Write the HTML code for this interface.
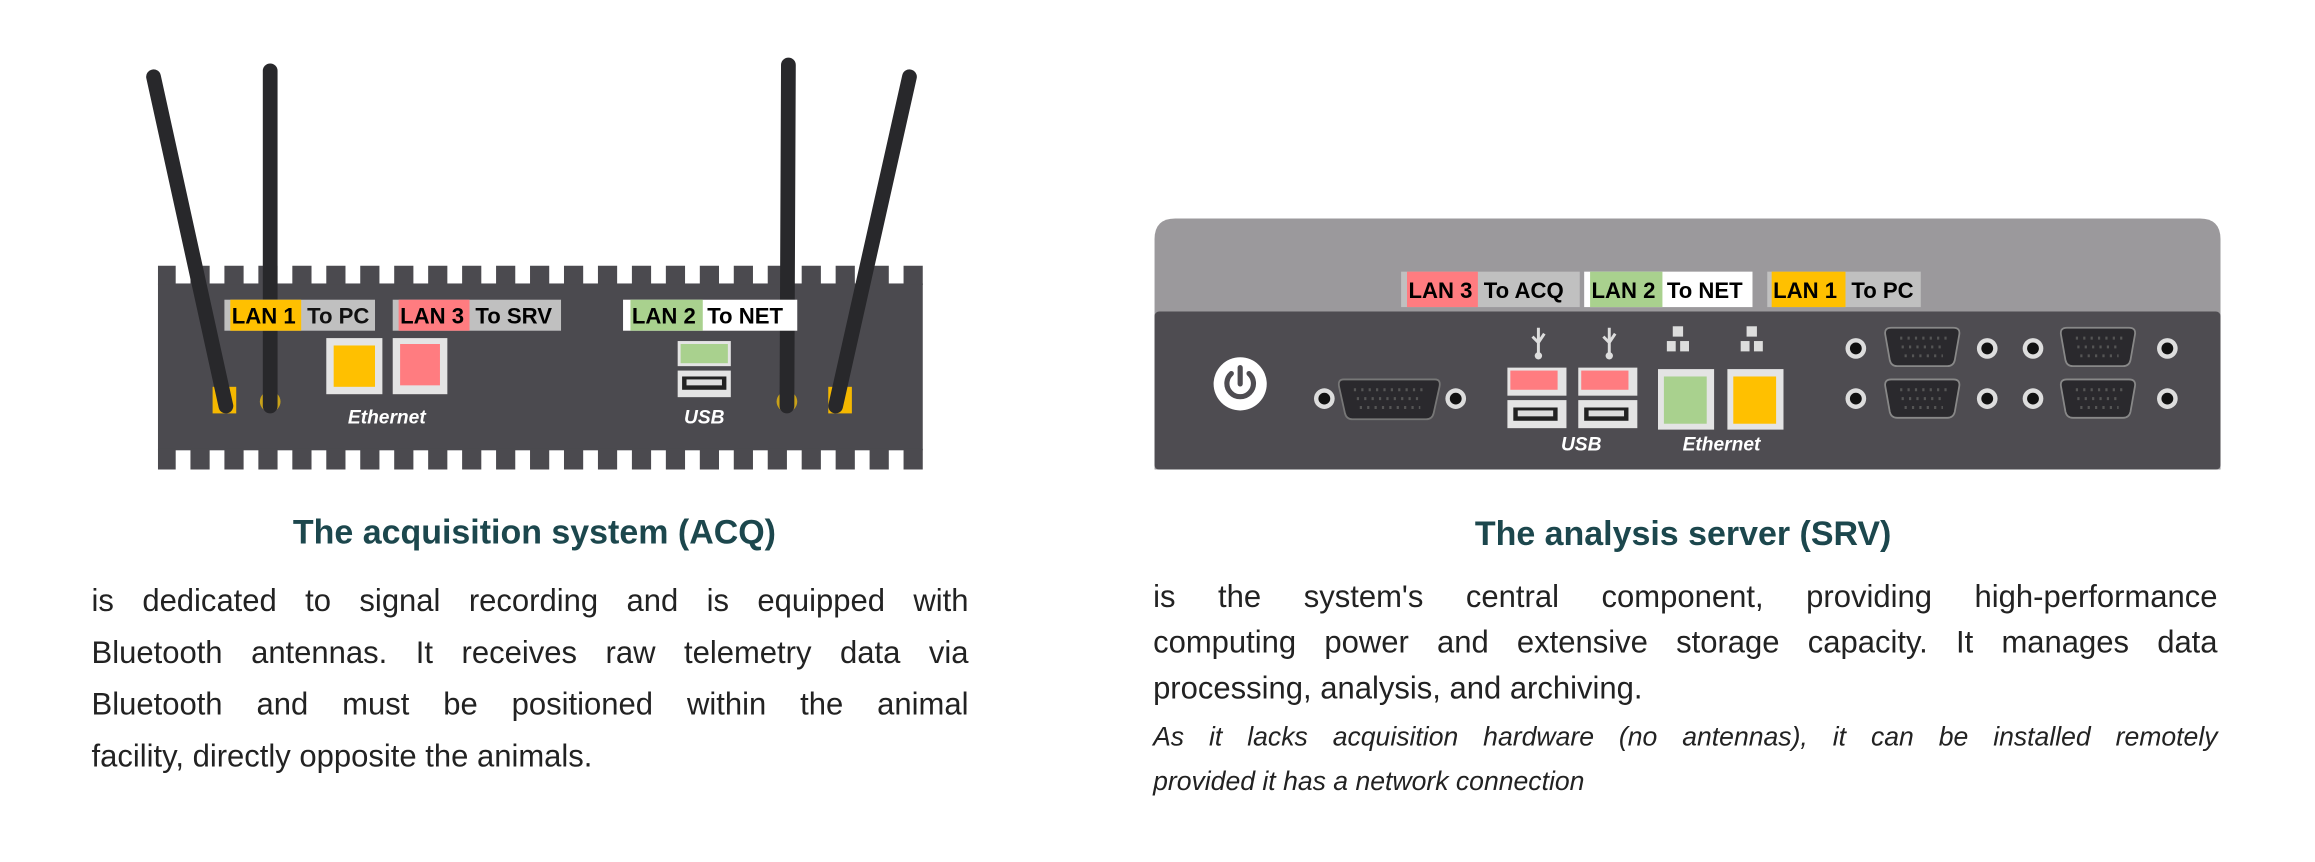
<!DOCTYPE html>
<html><head><meta charset="utf-8"><style>
html,body{margin:0;padding:0;background:#fff;width:2315px;height:862px;overflow:hidden}
#w{position:absolute;left:0;top:0;width:1568px;height:584px;transform:scale(1.4764);transform-origin:0 0;font-family:"Liberation Sans",sans-serif}
.t{position:absolute;color:#1c474d;font-weight:bold;font-size:23px;text-align:center;white-space:nowrap}
.p{position:absolute;color:#222;font-size:21px;line-height:35px}
.p div,.i div{text-align:justify;text-align-last:justify;white-space:nowrap}
.p div.l,.i div.l{text-align-last:left}
.i{position:absolute;color:#222;font-size:18px;line-height:30px;font-style:italic}
svg{position:absolute;left:0;top:0}
</style></head><body><div id="w">
<svg width="1568" height="584" viewBox="0 0 1568 584" font-family="Liberation Sans, sans-serif">
<rect x="107" y="192" width="518" height="113" fill="#4b4a4f"/>
<g fill="#4b4a4f">
<rect x="107" y="180" width="12" height="13"/><rect x="129" y="180" width="13" height="13"/><rect x="152" y="180" width="13" height="13"/><rect x="175" y="180" width="13" height="13"/><rect x="198" y="180" width="13" height="13"/><rect x="221" y="180" width="13" height="13"/><rect x="244" y="180" width="13" height="13"/><rect x="267" y="180" width="13" height="13"/><rect x="290" y="180" width="13" height="13"/><rect x="313" y="180" width="13" height="13"/><rect x="336" y="180" width="13" height="13"/><rect x="359" y="180" width="13" height="13"/><rect x="382" y="180" width="13" height="13"/><rect x="405" y="180" width="13" height="13"/><rect x="428" y="180" width="13" height="13"/><rect x="451" y="180" width="13" height="13"/><rect x="474" y="180" width="13" height="13"/><rect x="497" y="180" width="13" height="13"/><rect x="520" y="180" width="13" height="13"/><rect x="543" y="180" width="13" height="13"/><rect x="566" y="180" width="13" height="13"/><rect x="589" y="180" width="13" height="13"/><rect x="612" y="180" width="13" height="13"/>
<rect x="107" y="304" width="12" height="14"/><rect x="129" y="304" width="13" height="14"/><rect x="152" y="304" width="13" height="14"/><rect x="175" y="304" width="13" height="14"/><rect x="198" y="304" width="13" height="14"/><rect x="221" y="304" width="13" height="14"/><rect x="244" y="304" width="13" height="14"/><rect x="267" y="304" width="13" height="14"/><rect x="290" y="304" width="13" height="14"/><rect x="313" y="304" width="13" height="14"/><rect x="336" y="304" width="13" height="14"/><rect x="359" y="304" width="13" height="14"/><rect x="382" y="304" width="13" height="14"/><rect x="405" y="304" width="13" height="14"/><rect x="428" y="304" width="13" height="14"/><rect x="451" y="304" width="13" height="14"/><rect x="474" y="304" width="13" height="14"/><rect x="497" y="304" width="13" height="14"/><rect x="520" y="304" width="13" height="14"/><rect x="543" y="304" width="13" height="14"/><rect x="566" y="304" width="13" height="14"/><rect x="589" y="304" width="13" height="14"/><rect x="612" y="304" width="13" height="14"/>
</g>
<rect x="144" y="262" width="16" height="18" fill="#f5b800"/>
<rect x="561" y="262" width="16" height="18" fill="#f5b800"/>
<circle cx="183" cy="272" r="7" fill="#c9a21a"/>
<circle cx="533" cy="272" r="7" fill="#c9a21a"/>
<g stroke="#28282b" stroke-linecap="round">
<line x1="104" y1="52" x2="153" y2="275" stroke-width="10"/>
<line x1="183" y1="48" x2="183" y2="275" stroke-width="10"/>
<line x1="534" y1="44" x2="533" y2="275" stroke-width="10"/>
<line x1="616" y1="52" x2="566" y2="275" stroke-width="10"/>
</g>
<g font-size="15" font-weight="bold">
<rect x="152" y="203" width="102" height="21" fill="#c0c0c0"/><rect x="156" y="203" width="48" height="21" fill="#ffc000"/>
<text x="157" y="219">LAN 1</text><text x="208" y="219" fill="#111">To PC</text>
<rect x="266" y="203" width="114" height="21" fill="#c0c0c0"/><rect x="270" y="203" width="48" height="21" fill="#ff7c80"/>
<text x="271" y="219">LAN 3</text><text x="322" y="219">To SRV</text>
<rect x="422" y="203" width="118" height="21" fill="#fff"/><rect x="427" y="203" width="49" height="21" fill="#a9d18e"/>
<text x="428" y="219">LAN 2</text><text x="479" y="219">To NET</text>
</g>
<rect x="221" y="229" width="38" height="38" fill="#e4e4e4"/><rect x="226" y="234" width="28" height="28" fill="#ffc000"/>
<rect x="266" y="229" width="37" height="38" fill="#e4e4e4"/><rect x="271" y="233" width="27" height="28" fill="#ff7c80"/>
<rect x="459" y="231" width="36" height="17" fill="#e4e4e4"/><rect x="461" y="233" width="32" height="13" fill="#a9d18e"/>
<rect x="459" y="251" width="36" height="18" fill="#e4e4e4"/><rect x="462" y="255" width="30" height="9" fill="#222"/><rect x="465" y="257" width="24" height="4" fill="#ddd"/>
<text x="262" y="287" fill="#fff" font-size="13" font-style="italic" font-weight="bold" text-anchor="middle">Ethernet</text>
<text x="477" y="287" fill="#fff" font-size="13" font-style="italic" font-weight="bold" text-anchor="middle">USB</text>

<path d="M782 318 V162 Q782 148 796 148 H1490 Q1504 148 1504 162 V318 Z" fill="#9b999c"/>
<rect x="782" y="211" width="722" height="107" rx="3" fill="#4e4c51"/>
<g font-size="15" font-weight="bold">
<rect x="949" y="184" width="121" height="24" fill="#c0c0c0"/><rect x="953" y="184" width="48" height="24" fill="#ff7c80"/>
<text x="954" y="202">LAN 3</text><text x="1005" y="202">To ACQ</text>
<rect x="1073" y="184" width="114" height="24" fill="#fff"/><rect x="1077" y="184" width="49" height="24" fill="#a9d18e"/>
<text x="1078" y="202">LAN 2</text><text x="1129" y="202">To NET</text>
<rect x="1197" y="184" width="104" height="24" fill="#c0c0c0"/><rect x="1200" y="184" width="50" height="24" fill="#ffc000"/>
<text x="1201" y="202">LAN 1</text><text x="1254" y="202">To PC</text>
</g>
<circle cx="840" cy="260" r="18" fill="#fff"/>
<path d="M834 253 A9 9 0 1 0 846 253" fill="none" stroke="#4e4c51" stroke-width="3.5" stroke-linecap="round"/>
<line x1="840" y1="249" x2="840" y2="260" stroke="#4e4c51" stroke-width="3.5" stroke-linecap="round"/>
<circle cx="897" cy="270" r="7" fill="#ddd"/><circle cx="897" cy="270" r="4" fill="#111"/>
<circle cx="986" cy="270" r="7" fill="#ddd"/><circle cx="986" cy="270" r="4" fill="#111"/>
<path d="M910 257 H972 Q976 257 975 262 L971 280 Q970 284 966 284 H916 Q912 284 911 280 L907 262 Q906 257 910 257Z" fill="#2a292d" stroke="#777" stroke-width="1.2"/>
<g fill="#2a292d" stroke="#888" stroke-width="1.2">
<path d="M1281 222 H1323 Q1328 222 1327 227 L1324 244 Q1323 248 1319 248 H1285 Q1281 248 1280 244 L1277 227 Q1276 222 1281 222Z"/>
<path d="M1281 257 H1323 Q1328 257 1327 262 L1324 279 Q1323 283 1319 283 H1285 Q1281 283 1280 279 L1277 262 Q1276 257 1281 257Z"/>
<path d="M1400 222 H1442 Q1447 222 1446 227 L1443 244 Q1442 248 1438 248 H1404 Q1400 248 1399 244 L1396 227 Q1395 222 1400 222Z"/>
<path d="M1400 257 H1442 Q1447 257 1446 262 L1443 279 Q1442 283 1438 283 H1404 Q1400 283 1399 279 L1396 262 Q1395 257 1400 257Z"/>
</g>
<g stroke="#555" stroke-width="2" stroke-dasharray="1.5 3.5">
<line x1="917" y1="264" x2="966" y2="264"/><line x1="919" y1="270" x2="964" y2="270"/><line x1="921" y1="276" x2="962" y2="276"/>
<line x1="1287" y1="229" x2="1320" y2="229"/><line x1="1288" y1="235" x2="1318" y2="235"/><line x1="1290" y1="241" x2="1316" y2="241"/>
<line x1="1287" y1="264" x2="1320" y2="264"/><line x1="1288" y1="270" x2="1318" y2="270"/><line x1="1290" y1="276" x2="1316" y2="276"/>
<line x1="1406" y1="229" x2="1439" y2="229"/><line x1="1407" y1="235" x2="1437" y2="235"/><line x1="1409" y1="241" x2="1435" y2="241"/>
<line x1="1406" y1="264" x2="1439" y2="264"/><line x1="1407" y1="270" x2="1437" y2="270"/><line x1="1409" y1="276" x2="1435" y2="276"/>
</g>
<g fill="#ddd">
<circle cx="1257" cy="236" r="7"/><circle cx="1346" cy="236" r="7"/><circle cx="1377" cy="236" r="7"/><circle cx="1468" cy="236" r="7"/>
<circle cx="1257" cy="270" r="7"/><circle cx="1346" cy="270" r="7"/><circle cx="1377" cy="270" r="7"/><circle cx="1468" cy="270" r="7"/>
</g>
<g fill="#111">
<circle cx="1257" cy="236" r="4"/><circle cx="1346" cy="236" r="4"/><circle cx="1377" cy="236" r="4"/><circle cx="1468" cy="236" r="4"/>
<circle cx="1257" cy="270" r="4"/><circle cx="1346" cy="270" r="4"/><circle cx="1377" cy="270" r="4"/><circle cx="1468" cy="270" r="4"/>
</g>
<g stroke="#ddd" stroke-width="2" fill="none">
<path d="M1042 222 V240 M1038 228 L1042 232 L1046 226"/>
<path d="M1090 222 V240 M1086 228 L1090 232 L1094 226"/>
</g>
<circle cx="1042" cy="241" r="2.5" fill="#ddd"/><circle cx="1090" cy="241" r="2.5" fill="#ddd"/>
<g fill="#ddd">
<rect x="1133" y="221" width="7" height="7"/><rect x="1129" y="231" width="6" height="7"/><rect x="1138" y="231" width="6" height="7"/>
<rect x="1183" y="221" width="7" height="7"/><rect x="1179" y="231" width="6" height="7"/><rect x="1188" y="231" width="6" height="7"/>
</g>
<rect x="1021" y="249" width="40" height="19" fill="#e4e4e4"/><rect x="1023" y="251" width="32" height="13" fill="#ff7c80"/>
<rect x="1069" y="249" width="40" height="19" fill="#e4e4e4"/><rect x="1071" y="251" width="32" height="13" fill="#ff7c80"/>
<rect x="1021" y="271" width="40" height="19" fill="#e4e4e4"/><rect x="1025" y="276" width="30" height="9" fill="#222"/><rect x="1028" y="278" width="24" height="4" fill="#ddd"/>
<rect x="1069" y="271" width="40" height="19" fill="#e4e4e4"/><rect x="1073" y="276" width="30" height="9" fill="#222"/><rect x="1076" y="278" width="24" height="4" fill="#ddd"/>
<rect x="1123" y="250" width="38" height="41" fill="#e4e4e4"/><rect x="1127" y="255" width="29" height="32" fill="#a9d18e"/>
<rect x="1170" y="250" width="38" height="41" fill="#e4e4e4"/><rect x="1174" y="255" width="29" height="32" fill="#ffc000"/>
<text x="1071" y="305" fill="#fff" font-size="13" font-style="italic" font-weight="bold" text-anchor="middle">USB</text>
<text x="1166" y="305" fill="#fff" font-size="13" font-style="italic" font-weight="bold" text-anchor="middle">Ethernet</text>
</svg>

<div class="t" style="left:162px;top:347px;width:400px">The acquisition system (ACQ)</div>
<div class="p" style="left:62px;top:390px;width:594px">
<div>is dedicated to signal recording and is equipped with</div>
<div>Bluetooth antennas. It receives raw telemetry data via</div>
<div>Bluetooth and must be positioned within the animal</div>
<div class="l">facility, directly opposite the animals.</div>
</div>

<div class="t" style="left:940px;top:348px;width:400px">The analysis server (SRV)</div>
<div class="p" style="left:781px;top:389px;width:721px;line-height:31px">
<div>is the system's central component, providing high-performance</div>
<div>computing power and extensive storage capacity. It manages data</div>
<div class="l">processing, analysis, and archiving.</div>
</div>
<div class="i" style="left:781px;top:484px;width:721px">
<div>As it lacks acquisition hardware (no antennas), it can be installed remotely</div>
<div class="l">provided it has a network connection</div>
</div>
</div></body></html>
